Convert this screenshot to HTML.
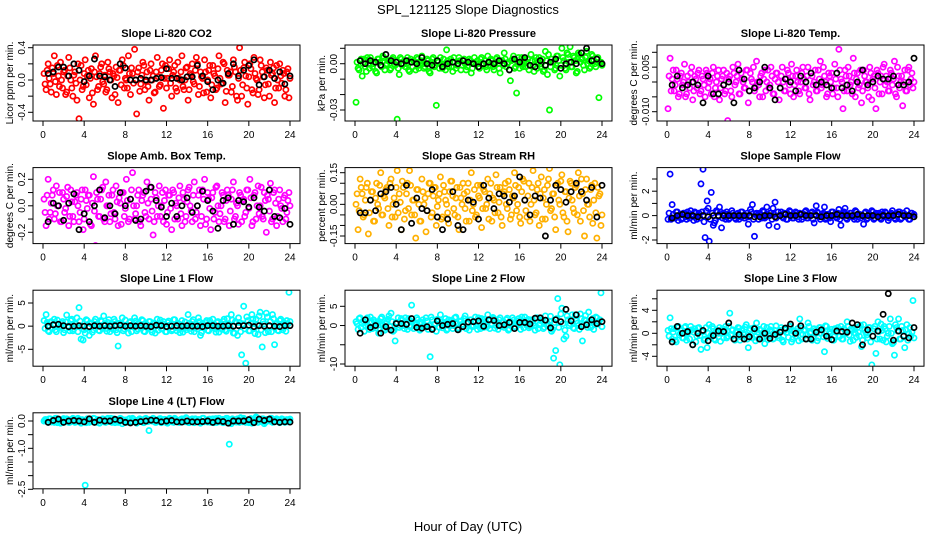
<!DOCTYPE html>
<html><head><meta charset="utf-8"><title>SPL_121125 Slope Diagnostics</title>
<style>
html,body{margin:0;padding:0;background:#fff;}
svg{display:block;font-family:"Liberation Sans",sans-serif;}
</style></head>
<body>
<svg id="chart" width="936" height="540" viewBox="0 0 936 540" xmlns="http://www.w3.org/2000/svg">
<rect x="0" y="0" width="936" height="540" fill="#fff"/>
<text x="468" y="14" text-anchor="middle" font-size="13">SPL_121125  Slope Diagnostics</text>
<text x="468" y="531" text-anchor="middle" font-size="13">Hour of Day (UTC)</text>
<g id="panels"></g>
</svg>
<script>
// shared hour values (categories on x)
const hoursColor = [0.1,0.3,0.5,0.7,0.9,1.1,1.3,1.5,1.7,1.9,2.1,2.3,2.5,2.7,2.9,3.1,3.3,3.5,3.7,3.9,4.1,4.3,4.5,4.7,4.9,5.1,5.3,5.5,5.7,5.9,6.1,6.3,6.5,6.7,6.9,7.1,7.3,7.5,7.7,7.9,8.1,8.3,8.5,8.7,8.9,9.1,9.3,9.5,9.7,9.9,10.1,10.3,10.5,10.7,10.9,11.1,11.3,11.5,11.7,11.9,12.1,12.3,12.5,12.7,12.9,13.1,13.3,13.5,13.7,13.9,14.1,14.3,14.5,14.7,14.9,15.1,15.3,15.5,15.7,15.9,16.1,16.3,16.5,16.7,16.9,17.1,17.3,17.5,17.7,17.9,18.1,18.3,18.5,18.7,18.9,19.1,19.3,19.5,19.7,19.9,20.1,20.3,20.5,20.7,20.9,21.1,21.3,21.5,21.7,21.9,22.1,22.3,22.5,22.7,22.9,23.1,23.3,23.5,23.7,23.9];
const hoursColorB = [0.2,0.4,0.6,0.8,1.0,1.2,1.4,1.6,1.8,2.0,2.2,2.4,2.6,2.8,3.0,3.2,3.4,3.6,3.8,4.0,4.2,4.4,4.6,4.8,5.0,5.2,5.4,5.6,5.8,6.0,6.2,6.4,6.6,6.8,7.0,7.2,7.4,7.6,7.8,8.0,8.2,8.4,8.6,8.8,9.0,9.2,9.4,9.6,9.8,10.0,10.2,10.4,10.6,10.8,11.0,11.2,11.4,11.6,11.8,12.0,12.2,12.4,12.6,12.8,13.0,13.2,13.4,13.6,13.8,14.0,14.2,14.4,14.6,14.8,15.0,15.2,15.4,15.6,15.8,16.0,16.2,16.4,16.6,16.8,17.0,17.2,17.4,17.6,17.8,18.0,18.2,18.4,18.6,18.8,19.0,19.2,19.4,19.6,19.8,20.0,20.2,20.4,20.6,20.8,21.0,21.2,21.4,21.6,21.8,22.0,22.2,22.4,22.6,22.8,23.0,23.2,23.4,23.6,23.8,24.0];
const hoursBlack = [0.5,1,1.5,2,2.5,3,3.5,4,4.5,5,5.5,6,6.5,7,7.5,8,8.5,9,9.5,10,10.5,11,11.5,12,12.5,13,13.5,14,14.5,15,15.5,16,16.5,17,17.5,18,18.5,19,19.5,20,20.5,21,21.5,22,22.5,23,23.5,24];
const xTicks = [0,4,8,12,16,20,24];

const titles = ["Slope Li-820 CO2","Slope Li-820 Pressure","Slope Li-820 Temp.","Slope Amb. Box Temp.","Slope Gas Stream RH","Slope Sample Flow","Slope Line 1 Flow","Slope Line 2 Flow","Slope Line 3 Flow","Slope Line 4 (LT) Flow"];
const yTitles = ["Licor ppm per min.","kPa per min.","degrees C per min.","degrees C per min.","percent per min.","ml/min per min.","ml/min per min.","ml/min per min.","ml/min per min.","ml/min per min."];
const seriesColors = ["#ff0000","#00ff00","#ff00ff","#ff00ff","#ffb000","#0000ff","#00ffff","#00ffff","#00ffff","#00ffff"];

const yTicks0 = [0.4,0.2,0,-0.2,-0.4];       const yLabels0 = ["0.4","","0.0","","-0.4"];
const yTicks1 = [0.01,0,-0.01,-0.02,-0.03];  const yLabels1 = ["","0.00","","","-0.03"];
const yTicks2 = [0.01,0.005,0,-0.005,-0.01]; const yLabels2 = ["","0.005","","","-0.010"];
const yTicks3 = [0.2,0.1,0,-0.1,-0.2];       const yLabels3 = ["0.2","","0.0","","-0.2"];
const yTicks4 = [0.15,0.1,0.05,0,-0.05,-0.1,-0.15]; const yLabels4 = ["0.15","","","0.00","","","-0.15"];
const yTicks5 = [3,2,1,0,-1,-2];             const yLabels5 = ["","2","","0","","-2"];
const yTicks6 = [5,0,-5];                    const yLabels6 = ["5","0","-5"];
const yTicks7 = [5,0,-5,-10];                const yLabels7 = ["5","0","","-10"];
const yTicks8 = [6,4,2,0,-2,-4];             const yLabels8 = ["","4","","0","","-4"];
const yTicks9 = [0,-0.5,-1,-1.5,-2,-2.5];    const yLabels9 = ["0.0","","-1.0","","","-2.5"];

const color0 = [0.08,-0.12,0.2,-0.05,0.15,0.3,-0.18,0.05,0.22,-0.1,0.12,-0.15,0.28,0.0,-0.2,0.1,-0.25,-0.48,0.18,-0.08,0.25,0.05,-0.22,0.14,-0.3,0.3,-0.12,0.08,0.2,-0.05,-0.15,0.22,0.1,-0.22,0.05,0.16,-0.28,0.12,0.25,-0.1,0.0,0.3,-0.18,0.08,0.38,-0.42,0.15,-0.05,0.22,-0.12,0.1,-0.25,0.2,0.05,-0.15,0.28,-0.08,0.12,-0.35,0.18,0.02,0.25,-0.2,0.1,-0.1,0.22,0.0,0.3,-0.12,0.15,-0.25,0.08,0.2,-0.05,0.28,-0.18,0.1,0.02,0.25,-0.15,0.12,-0.22,0.18,0.05,-0.1,0.3,-0.05,0.22,-0.28,0.12,0.06,-0.15,0.25,0.1,-0.25,0.4,-0.2,0.15,0.05,-0.3,0.2,-0.12,0.28,0.02,-0.18,0.25,0.1,-0.22,0.15,-0.05,0.22,0.08,-0.28,0.18,-0.1,0.05,0.12,-0.2,0.1,-0.22];
const color1 = [-0.025,-0.003,0.002,-0.008,0.003,-0.005,0.0,0.004,-0.002,0.001,-0.006,0.003,-0.001,0.005,-0.004,0.0,0.002,-0.003,0.004,-0.001,-0.036,-0.007,0.003,0.0,-0.002,0.004,-0.005,0.001,0.002,-0.004,0.003,-0.001,0.005,-0.003,0.0,0.002,-0.006,0.003,-0.002,-0.027,0.001,0.004,-0.003,0.0,0.009,-0.002,0.003,-0.005,0.001,-0.001,0.004,-0.004,0.002,0.0,-0.002,0.003,-0.006,0.001,-0.04,0.002,-0.003,0.004,0.0,-0.002,0.005,-0.001,0.002,-0.004,0.003,0.0,-0.006,0.002,0.007,-0.002,0.001,-0.011,0.003,-0.003,-0.019,0.004,0.0,-0.002,0.003,0.001,-0.004,0.006,-0.001,0.002,-0.003,0.004,0.0,-0.005,0.008,-0.007,-0.03,0.003,0.001,-0.003,0.005,-0.008,0.01,0.002,-0.004,0.006,0.011,-0.002,0.004,-0.006,0.007,0.001,0.003,-0.004,0.008,0.002,-0.002,0.005,0.0,0.003,-0.022,0.001];
const color2 = [-0.009,0.008,0.001,-0.003,0.004,-0.005,0.002,-0.001,0.006,-0.004,0.0,0.003,-0.006,0.002,-0.002,0.004,-0.003,0.001,-0.005,0.003,0.0,-0.004,0.005,-0.002,0.002,-0.006,0.001,0.004,-0.003,-0.013,0.002,-0.005,0.003,0.0,0.006,-0.004,0.001,-0.002,0.004,-0.007,0.003,0.0,-0.003,0.007,-0.001,0.002,-0.005,0.004,0.0,-0.002,0.005,-0.004,0.001,0.003,-0.006,0.002,0.0,-0.003,0.004,-0.001,0.006,-0.005,0.002,0.0,-0.004,0.003,0.001,-0.002,0.005,-0.006,0.002,0.0,-0.003,0.004,0.007,-0.001,0.002,-0.005,0.003,0.0,-0.004,0.006,-0.002,0.011,0.001,-0.009,0.004,-0.003,0.002,0.0,0.008,-0.005,0.003,-0.001,-0.007,0.004,0.0,-0.002,0.005,-0.006,0.002,-0.009,0.003,0.0,-0.004,0.006,0.002,-0.003,0.004,-0.001,0.007,-0.005,0.002,0.0,-0.008,0.004,-0.003,0.005,0.001,-0.002];
const color3 = [0.05,-0.15,0.2,-0.05,0.08,-0.1,0.15,0.0,-0.12,0.1,-0.05,0.07,-0.15,0.12,-0.08,0.03,0.1,-0.12,0.05,-0.18,0.12,-0.02,0.08,-0.15,0.22,-0.3,0.05,-0.08,0.12,-0.1,0.18,0.0,-0.12,0.08,-0.05,0.15,-0.15,0.02,0.1,-0.08,0.2,-0.12,0.05,0.25,-0.1,0.0,0.12,-0.15,0.08,-0.05,0.18,-0.1,0.05,-0.22,0.1,-0.08,0.15,0.0,-0.12,0.12,-0.05,0.08,-0.18,0.1,0.02,-0.1,0.15,-0.15,0.05,-0.08,0.12,0.0,-0.12,0.18,-0.05,0.08,-0.15,0.12,0.2,-0.1,0.05,-0.18,0.1,-0.05,0.15,-0.12,0.0,0.08,-0.1,0.12,-0.15,0.05,0.18,-0.08,0.0,0.1,-0.12,0.05,-0.05,0.12,0.2,-0.15,0.08,-0.1,0.15,0.0,-0.08,0.1,-0.2,0.05,0.17,-0.1,0.12,-0.15,0.05,0.0,-0.12,0.08,-0.05,0.1];
const color4 = [0.0,-0.12,0.12,0.05,-0.05,0.08,-0.14,0.02,0.06,-0.08,0.1,-0.02,0.15,-0.05,0.03,0.08,-0.1,0.12,0.0,-0.06,0.16,0.05,-0.12,0.08,-0.03,0.1,0.16,-0.05,0.02,-0.16,0.07,-0.08,0.12,0.0,-0.13,0.05,0.1,-0.04,0.08,-0.1,0.02,0.13,-0.06,0.06,0.0,-0.09,0.11,0.04,-0.05,0.08,-0.12,0.03,0.1,-0.02,0.06,-0.08,0.15,0.0,-0.06,0.09,0.03,-0.11,0.07,-0.02,0.12,0.05,-0.08,0.02,0.14,-0.04,0.08,-0.1,0.06,0.0,0.11,-0.07,0.04,0.15,-0.03,0.08,-0.09,0.12,0.02,-0.06,0.1,0.0,0.16,-0.05,0.07,-0.1,0.13,0.03,-0.07,0.09,0.17,-0.02,0.05,-0.12,0.1,0.0,0.14,-0.06,0.06,-0.13,0.11,0.02,-0.04,0.09,0.15,-0.08,0.05,-0.15,0.12,0.0,0.07,-0.09,0.1,-0.16,0.04,-0.1];
const color5 = [-0.3,3.4,0.9,-0.2,0.3,-0.4,0.1,-0.2,0.2,-0.3,0.0,0.4,-0.1,0.3,-0.3,0.2,2.6,3.8,-1.8,1.2,-2.1,1.9,-0.8,-0.4,0.3,0.7,-1.0,0.2,-0.3,0.1,-0.2,0.4,0.0,-0.3,0.2,-0.1,0.3,-0.2,0.0,-0.7,0.5,0.9,-1.7,0.2,-0.3,0.1,0.4,-0.2,0.7,-0.8,0.2,0.6,1.1,-0.9,0.0,0.3,-0.2,0.1,-0.3,0.4,0.0,-0.2,0.3,-0.1,0.2,-0.3,0.1,0.4,-0.2,0.0,0.3,-0.6,0.8,0.2,-0.3,0.1,0.7,-0.2,0.0,-0.5,0.3,0.1,-0.2,0.5,-0.8,0.2,0.6,-0.3,0.0,0.2,-0.1,0.4,-0.3,0.1,0.0,-0.7,0.3,-0.2,0.1,0.4,-0.3,0.2,0.0,-0.2,0.3,-0.1,0.2,-0.4,0.1,0.4,-0.2,0.0,0.3,-0.3,0.2,0.0,0.4,-0.3,0.2,-0.1];
const color6 = [1.2,2.5,-1.0,0.8,-0.5,1.5,-1.2,0.5,0.0,1.0,-0.8,2.4,-0.3,1.2,-1.0,0.6,1.8,4.0,-2.8,-3.0,-1.5,1.2,-2.0,0.5,-0.8,1.5,0.2,-1.0,1.0,2.2,-0.5,0.8,-1.2,0.3,1.5,-0.8,-4.3,0.5,1.8,-0.6,0.2,-1.5,1.0,0.0,1.8,-1.0,0.6,-0.4,1.2,-1.2,0.3,1.0,-0.8,0.5,-1.5,1.5,0.0,-0.6,1.0,-1.2,0.8,0.2,-1.0,1.4,-0.3,0.6,-1.4,1.2,0.0,-0.8,2.5,-0.5,1.0,-1.2,0.4,1.8,-2.0,0.6,-0.3,1.2,-1.0,0.2,1.5,-0.6,0.8,-1.3,0.3,1.0,-0.8,1.6,0.0,2.5,-1.5,1.0,-2.0,0.8,-6.2,4.3,-8.0,1.2,-1.0,2.5,-0.5,1.5,-1.8,3.0,-4.5,0.5,2.8,-1.2,1.0,2.5,-4.0,0.6,-1.0,1.5,-0.8,0.5,1.2,7.3];
const color7 = [1.0,-1.0,2.0,0.5,-1.5,1.5,0.0,2.2,-0.8,1.0,0.5,-2.0,1.8,0.2,-1.2,1.0,2.5,3.2,-1.5,-4.0,0.8,-0.5,1.8,0.0,2.0,-1.0,1.2,5.3,-0.8,0.5,1.5,-1.2,0.8,0.0,2.0,-1.0,-8.1,1.5,0.2,-1.5,1.0,2.8,-0.6,0.8,-1.2,1.5,0.0,-0.8,2.0,0.5,-1.0,1.2,-0.3,2.5,0.8,-1.2,1.5,0.0,2.2,-1.0,0.6,1.8,-0.5,1.0,2.8,-0.8,0.5,1.8,0.0,-1.0,2.0,0.8,-0.5,1.5,-1.2,1.0,2.0,-0.3,0.6,1.8,-1.0,0.8,2.2,0.0,-0.6,1.5,0.5,-1.2,2.0,0.2,1.2,-0.8,2.5,0.0,1.0,-1.5,-8.5,-6.5,7.0,-10.2,4.5,-3.5,-2.8,1.5,0.5,2.8,-0.8,1.2,0.0,3.0,-4.0,1.5,0.5,3.5,-0.5,1.8,0.2,2.0,1.0,8.5];
const color8 = [0.5,2.7,-1.0,0.8,-1.5,1.2,0.0,-0.8,1.0,-1.2,0.5,1.2,-2.0,0.8,-0.5,1.0,-2.8,0.3,-1.0,-2.5,1.5,-0.3,0.8,-1.2,0.5,1.0,0.0,-0.8,1.2,-0.5,3.5,0.5,-1.0,0.2,1.0,-1.2,0.6,-0.3,1.5,-2.5,0.8,-0.8,0.3,1.8,-1.0,0.5,0.0,-1.8,1.0,-0.5,1.2,-1.0,0.5,0.0,-0.8,1.0,-1.5,0.6,0.2,1.2,-1.5,0.3,-0.5,0.8,2.5,-1.0,0.5,-0.3,1.8,0.0,-1.2,0.8,0.2,-0.8,1.0,0.5,-3.2,1.2,-0.5,0.0,-1.2,0.8,0.3,-0.6,1.2,-1.0,0.5,2.0,-0.3,0.8,-1.2,0.0,1.0,-0.5,-2.3,1.5,0.2,-0.8,1.0,-5.5,0.8,-3.5,2.0,-1.0,0.5,1.2,-1.5,0.0,2.5,-1.8,-3.8,1.0,2.5,-1.0,0.5,-2.5,1.5,0.0,-0.5,5.7];
const color9 = [0.0,0.05,-0.05,0.08,0.0,-0.05,0.1,0.02,-0.08,0.05,0.0,0.08,-0.05,0.03,0.1,-0.05,0.0,0.05,-0.08,0.02,-2.35,0.08,-0.05,0.0,0.1,-0.03,0.05,-0.08,0.0,0.06,-0.05,0.1,0.0,-0.05,0.08,0.02,-0.05,0.1,-0.1,0.03,0.0,0.06,-0.05,0.1,0.0,-0.08,0.05,0.02,-0.05,0.08,0.0,-0.35,0.05,0.1,-0.05,0.02,0.08,-0.06,0.0,0.05,-0.08,0.1,0.0,-0.05,0.06,0.02,-0.05,0.08,0.0,0.12,-0.05,0.03,0.08,-0.06,0.0,0.05,-0.08,0.1,-0.03,0.0,0.06,-0.05,0.08,0.02,-0.05,0.1,0.0,-0.06,0.05,0.1,-0.85,-0.1,0.05,0.0,0.08,-0.05,0.02,0.1,-0.05,0.0,0.06,-0.08,0.05,0.15,-0.05,0.02,0.08,-0.1,0.0,0.05,0.1,-0.05,0.02,0.08,-0.03,0.0,0.06,-0.05,0.05,0.02];

// second colored samples (denser cloud)
const colorB0 = [-0.05,0.12,0.02,-0.15,0.08,-0.02,0.18,-0.08,0.0,0.1,-0.18,0.05,0.15,-0.1,0.06,-0.04,0.2,0.0,-0.12,0.08,-0.06,0.12,0.02,-0.16,0.1,0.04,-0.08,0.16,-0.02,0.06,-0.12,0.14,0.0,0.08,-0.18,0.03,0.12,-0.06,0.18,0.02,-0.1,0.08,0.15,-0.04,0.0,0.1,-0.14,0.06,0.18,-0.02,-0.08,0.12,0.0,-0.16,0.1,0.04,-0.06,0.2,0.02,-0.1,0.14,-0.04,0.06,0.18,-0.14,0.02,0.1,-0.08,0.0,0.16,-0.12,0.06,-0.02,0.12,0.2,-0.08,0.04,-0.16,0.1,0.0,0.18,-0.06,0.08,-0.12,0.14,0.02,-0.04,0.2,-0.14,0.06,0.1,-0.08,0.16,-0.2,0.02,0.12,-0.06,0.22,-0.1,0.04,0.14,-0.16,0.08,0.0,-0.12,0.18,0.04,-0.06,0.12,-0.2,0.06,0.15,-0.1,0.0,0.2,-0.04,0.08,-0.12,0.14,0.02];
const colorB1 = [0.001,-0.004,0.003,0.0,-0.002,0.004,-0.003,0.002,0.0,-0.005,0.003,0.001,-0.002,0.004,-0.001,0.002,-0.004,0.003,0.0,0.002,-0.003,0.004,-0.001,0.002,0.0,-0.004,0.003,-0.002,0.001,0.004,-0.003,0.002,0.0,-0.002,0.003,-0.005,0.001,0.004,-0.001,0.002,-0.003,0.0,0.003,-0.004,0.002,0.001,-0.002,0.004,-0.003,0.0,0.002,-0.001,0.003,-0.004,0.001,0.002,-0.003,0.004,0.0,-0.002,0.003,-0.001,0.002,-0.004,0.001,0.003,-0.002,0.0,0.004,-0.003,0.002,-0.001,0.003,0.0,-0.004,0.002,0.005,-0.002,0.001,-0.003,0.004,0.0,-0.002,0.003,-0.001,0.002,-0.005,0.004,0.001,-0.002,0.003,-0.004,0.002,0.006,-0.002,0.001,-0.004,0.005,0.002,-0.001,0.004,-0.003,0.007,0.001,-0.002,0.005,0.002,-0.005,0.006,0.003,-0.001,0.004,0.0,-0.003,0.006,0.002,-0.002,0.004,0.001,-0.001];
const colorB2 = [0.002,-0.003,0.004,-0.001,0.001,-0.004,0.003,0.0,-0.005,0.002,-0.002,0.005,-0.003,0.001,0.003,-0.004,0.002,-0.001,0.004,-0.002,0.001,0.003,-0.005,0.0,0.004,-0.002,0.002,-0.004,0.003,0.001,-0.003,0.005,-0.001,0.002,-0.004,0.003,0.0,-0.002,0.004,-0.003,0.001,0.005,-0.002,0.0,-0.005,0.003,0.001,-0.003,0.004,-0.001,0.002,-0.004,0.003,0.0,-0.002,0.005,-0.003,0.001,0.003,-0.004,0.002,-0.001,0.004,-0.003,0.0,0.005,-0.002,0.002,-0.004,0.003,-0.001,0.004,-0.003,0.001,-0.002,0.005,0.0,-0.004,0.002,0.003,-0.002,0.001,-0.005,0.004,0.0,-0.003,0.002,0.005,-0.001,-0.004,0.003,0.001,-0.002,0.004,-0.003,0.002,0.0,-0.005,0.003,0.001,-0.002,0.004,-0.004,0.002,0.005,-0.001,0.0,-0.003,0.003,0.001,-0.004,0.005,-0.002,0.002,0.0,-0.003,0.004,-0.001,0.003,0.0];
const colorB3 = [-0.05,0.08,-0.1,0.02,0.12,-0.06,0.0,0.1,-0.12,0.05,-0.02,0.14,-0.08,0.03,-0.12,0.08,0.0,-0.05,0.12,-0.1,0.04,0.08,-0.14,0.02,-0.04,0.1,-0.08,0.05,0.14,-0.12,0.0,0.08,-0.06,0.12,-0.1,0.03,0.06,-0.14,0.1,-0.02,0.04,-0.1,0.12,0.0,-0.06,0.08,-0.12,0.04,0.1,-0.08,0.02,0.14,-0.04,-0.12,0.06,0.0,-0.08,0.1,0.04,-0.14,0.08,-0.02,0.12,-0.1,0.0,0.06,-0.06,0.1,-0.12,0.03,0.14,-0.04,0.08,-0.1,0.0,0.12,-0.08,0.05,-0.14,0.1,-0.02,0.06,-0.1,0.14,0.0,-0.06,0.1,-0.12,0.04,0.08,-0.04,0.12,-0.1,0.02,-0.14,0.08,0.04,-0.08,0.12,-0.02,0.06,-0.12,0.1,0.0,-0.06,0.14,-0.1,0.04,0.08,-0.04,-0.12,0.1,0.02,-0.08,0.12,-0.02,0.06,-0.1,0.04,0.0];
const colorB4 = [0.05,-0.03,0.08,-0.06,0.02,0.1,-0.04,0.06,-0.08,0.03,0.0,0.09,-0.05,0.04,0.07,-0.02,0.1,-0.06,0.03,0.08,-0.04,0.01,0.11,-0.07,0.05,-0.02,0.09,0.02,-0.05,0.07,0.0,-0.08,0.06,0.03,-0.03,0.1,-0.06,0.04,0.08,-0.01,0.05,-0.07,0.09,0.02,-0.04,0.06,0.11,-0.02,0.03,-0.06,0.08,0.0,0.05,-0.08,0.1,0.02,-0.03,0.07,-0.05,0.04,0.09,-0.02,0.06,0.0,-0.07,0.1,0.03,-0.04,0.08,0.01,-0.06,0.05,0.1,-0.02,0.07,-0.05,0.03,0.09,0.0,-0.06,0.06,0.11,-0.03,0.04,-0.08,0.08,0.02,-0.04,0.1,0.05,-0.07,0.07,0.0,0.12,-0.03,0.05,-0.06,0.09,0.02,0.11,-0.04,0.06,-0.08,0.03,0.1,-0.02,0.08,-0.05,0.04,0.12,-0.03,0.07,0.0,-0.06,0.09,0.02,-0.04,0.08,0.05,-0.05];
const colorB5 = [0.2,-0.3,0.1,-0.2,0.3,0.0,-0.3,0.2,-0.1,0.3,-0.2,0.1,-0.4,0.2,0.0,-0.2,0.3,-0.5,0.4,0.6,-0.3,0.2,-0.6,0.4,-0.1,0.3,-0.2,0.1,0.3,-0.3,0.0,0.2,-0.2,0.1,-0.3,0.3,0.0,-0.2,0.2,-0.1,0.3,-0.3,0.1,0.0,0.2,-0.2,0.3,-0.1,0.0,0.2,-0.3,0.1,-0.2,0.3,0.0,-0.1,0.2,-0.3,0.1,0.3,-0.2,0.0,0.2,-0.3,0.1,-0.1,0.3,-0.2,0.0,0.2,-0.3,0.1,0.3,-0.1,0.0,0.2,-0.3,0.1,-0.2,0.3,0.0,-0.1,0.2,-0.3,0.1,0.3,-0.2,0.0,0.2,-0.1,-0.3,0.3,0.1,-0.2,0.0,0.2,-0.3,0.1,-0.1,0.3,-0.2,0.0,0.2,-0.3,0.1,0.3,-0.1,-0.2,0.2,0.0,-0.3,0.1,0.3,-0.2,0.2,-0.1,0.0,-0.3,0.2,0.1];
const colorB6 = [-0.5,0.8,-1.2,1.0,0.2,-0.8,1.3,-0.3,0.6,-1.4,0.9,0.0,-1.0,1.5,-0.6,0.4,-1.2,1.1,0.0,-0.8,1.4,-0.4,0.7,-1.3,1.0,0.2,-0.9,1.2,-0.5,0.5,-1.1,1.4,0.0,-0.7,1.0,-1.4,0.6,0.2,-1.0,1.3,-0.3,0.8,-1.2,0.4,1.1,-0.6,0.0,1.4,-1.1,0.5,-0.4,1.0,-1.3,0.7,0.1,-0.9,1.3,-0.5,0.4,-1.2,1.1,0.0,-0.7,1.4,-1.0,0.5,0.2,-1.3,0.9,-0.3,0.6,-1.1,1.4,0.0,-0.6,1.0,-1.4,0.4,0.8,-0.9,1.2,-0.2,0.5,-1.3,1.0,0.1,-0.7,1.5,-1.1,0.4,-0.4,1.3,-1.5,0.8,1.8,-1.2,0.5,-0.6,2.0,-1.0,0.7,1.5,-1.6,0.3,2.2,-0.8,1.0,-1.4,2.0,0.0,-1.2,1.6,0.4,-0.9,1.2,-0.3,0.8,-1.1,0.5,1.0];
const colorB7 = [0.5,1.8,-0.5,1.2,0.0,2.0,-1.0,0.8,1.5,-0.6,1.0,0.2,2.2,-0.8,0.6,1.6,-0.3,1.0,-1.2,0.8,2.0,0.0,1.4,-0.8,0.6,1.8,-0.4,1.0,0.2,2.0,-0.9,0.8,1.5,-0.2,1.2,0.0,2.2,-0.7,0.5,1.6,-0.5,1.0,0.2,1.8,-0.9,0.7,1.4,0.0,2.2,-0.6,1.0,0.3,1.8,-0.8,0.6,1.5,-0.3,1.1,0.0,2.0,-0.8,0.8,1.6,-0.4,1.2,0.2,2.1,-0.7,0.6,1.5,-0.2,1.0,0.0,1.9,-0.9,0.8,1.4,-0.4,1.2,0.3,2.2,-0.6,0.7,1.6,-0.2,1.0,0.0,2.0,-0.8,0.5,1.5,-0.4,1.2,0.3,2.4,-1.0,0.8,1.8,-0.5,3.0,0.5,-1.2,2.5,0.0,1.4,-0.6,2.8,0.6,-1.0,1.8,0.2,2.6,-0.5,1.2,0.8,-1.0,2.2,0.4,1.5,-0.3];
const colorB8 = [-0.5,0.8,0.2,-1.2,1.0,-0.3,0.5,-0.8,1.2,0.0,-1.0,0.6,0.2,-1.5,0.9,-0.4,0.3,-1.2,1.0,0.0,-0.6,1.2,-1.0,0.4,0.0,-1.4,0.8,0.3,-0.8,1.2,-0.2,0.6,-1.2,0.4,0.9,-0.6,0.0,1.1,-1.0,0.5,-0.3,0.9,-1.3,0.2,0.7,-0.8,1.2,0.0,-1.1,0.6,0.3,-0.9,1.3,-0.4,0.5,-1.2,0.8,0.1,-0.7,1.2,-1.0,0.4,0.0,-1.3,0.9,-0.2,0.6,-1.0,1.2,0.2,-0.8,0.5,-1.3,1.0,0.0,-0.6,1.3,-0.9,0.3,0.7,-1.2,0.2,1.0,-0.5,-1.0,0.8,0.0,1.2,-1.4,0.5,0.9,-0.7,0.2,1.4,-1.2,0.6,-0.3,1.0,-1.5,0.4,1.2,-1.0,0.3,1.6,-1.2,0.8,-0.5,1.2,0.0,-1.6,1.5,0.4,-1.0,1.2,-0.4,0.6,-1.2,1.0,0.2,-0.8];
const colorB9 = [0.05,-0.02,0.08,-0.04,0.02,0.1,-0.06,0.04,0.0,0.09,-0.03,0.06,-0.05,0.02,0.08,-0.04,0.1,-0.02,0.05,0.0,-0.06,0.07,0.02,-0.03,0.09,-0.05,0.04,0.0,0.08,-0.04,0.06,-0.02,0.1,0.02,-0.06,0.05,-0.03,0.08,0.0,0.04,-0.05,0.09,-0.02,0.06,0.0,-0.04,0.08,0.03,-0.06,0.1,-0.02,0.05,0.0,0.07,-0.05,0.03,0.09,-0.03,0.06,-0.06,0.02,0.08,-0.04,0.1,0.0,-0.05,0.06,0.03,-0.03,0.09,-0.06,0.04,0.0,0.08,-0.02,0.05,-0.05,0.1,0.02,-0.04,0.07,0.0,-0.06,0.09,0.03,-0.03,0.06,-0.02,0.1,0.0,-0.05,0.08,0.02,-0.04,0.06,0.12,-0.03,0.05,0.0,-0.06,0.09,0.02,-0.04,0.11,0.04,-0.02,0.08,-0.05,0.06,0.0,0.1,-0.03,0.05,0.02,-0.06,0.08,0.0,0.04,-0.03,0.07];

const black0 = [0.08,0.1,0.16,0.16,0.05,0.2,0.12,-0.02,0.05,0.26,0.05,0.04,0.0,-0.08,0.2,0.15,0.0,0.0,0.02,0.0,0.0,0.02,0.03,0.14,0.02,0.02,0.0,0.04,0.04,0.18,0.05,-0.02,-0.12,0.0,-0.04,0.08,0.2,0.05,0.12,0.18,0.25,-0.06,0.04,0.12,0.02,0.1,-0.05,0.05];
const black1 = [0.002,0.0,0.002,0.001,-0.001,0.006,0.002,0.001,0.0,0.002,0.001,0.0,0.004,0.0,-0.001,0.002,-0.002,0.0,0.001,0.0,0.002,0.001,0.0,-0.002,0.0,0.001,0.0,0.002,0.0,-0.004,0.003,0.001,0.004,-0.001,-0.002,0.002,-0.001,0.001,0.003,-0.003,0.0,0.001,0.0,0.007,0.01,0.002,0.003,0.0];
const black2 = [-0.001,0.002,-0.002,-0.001,0.0,-0.001,-0.007,0.002,-0.004,-0.004,-0.001,0.0,-0.007,0.004,0.001,-0.003,-0.002,0.0,0.005,-0.002,-0.006,-0.002,0.001,0.0,-0.003,0.002,0.0,0.003,-0.001,0.0,-0.001,-0.002,0.003,-0.002,-0.001,-0.003,0.0,0.004,-0.001,0.0,0.002,0.001,0.001,0.002,-0.001,-0.001,0.0,0.008];
const black3 = [-0.12,0.02,0.0,-0.11,0.02,0.09,-0.18,-0.06,-0.12,0.0,0.12,-0.09,0.0,-0.06,0.1,0.0,0.05,-0.11,-0.1,0.11,0.14,0.04,-0.01,-0.08,0.02,-0.08,0.0,0.06,-0.05,0.0,0.11,0.04,-0.04,-0.17,0.04,0.06,-0.14,0.04,0.03,-0.01,0.06,-0.01,-0.04,0.12,-0.08,-0.09,-0.02,-0.14];
const black4 = [-0.04,-0.04,0.02,-0.03,0.05,0.06,0.08,0.0,-0.12,0.09,-0.09,0.03,-0.02,-0.03,0.07,-0.06,-0.12,-0.07,0.06,-0.1,-0.12,0.02,0.01,-0.07,0.09,0.03,-0.02,0.05,0.04,0.01,0.04,0.13,0.02,-0.05,0.04,0.03,-0.15,0.02,0.09,0.07,0.01,0.06,0.1,0.06,0.02,0.08,-0.06,0.09];
const black5 = [-0.2,0.0,0.1,0.0,0.0,-0.1,0.0,-0.1,0.0,0.0,0.0,0.0,0.0,0.0,0.0,0.0,-0.1,-0.1,0.0,0.0,-0.1,0.0,0.1,0.0,0.0,0.1,0.0,0.0,0.0,-0.1,0.0,0.0,0.1,0.0,0.0,0.0,0.1,0.0,0.0,0.0,-0.1,0.0,0.0,0.0,0.1,0.0,0.0,-0.1];
const black6 = [0.0,0.3,0.4,0.1,-0.1,0.0,0.1,0.0,-0.1,0.1,0.0,0.1,0.0,0.1,0.2,0.0,0.1,0.0,0.1,0.0,-0.1,0.2,0.1,-0.1,0.0,0.1,0.0,0.1,0.0,0.0,-0.1,0.1,0.1,0.0,0.0,0.1,0.0,0.1,0.1,0.2,-0.1,0.1,0.0,0.1,0.0,-0.1,0.1,0.1];
const black7 = [-2.0,1.5,-0.5,0.0,-2.0,-0.3,-1.2,0.5,0.5,0.3,1.8,-0.5,-0.7,-0.3,-1.0,1.2,0.0,0.3,0.5,-1.1,-0.3,0.9,1.0,1.2,-0.2,1.5,1.3,0.0,0.2,0.8,-0.8,0.8,0.8,0.4,1.9,2.0,1.4,-0.6,1.5,1.0,4.2,1.2,2.8,-0.3,0.2,1.5,0.5,1.0];
const black8 = [-1.5,1.2,0.0,0.3,-2.0,0.0,0.5,-1.3,-0.4,0.4,0.3,1.8,-1.0,-0.2,-1.0,-0.6,0.8,-1.0,0.0,-0.9,-0.2,0.2,0.9,1.6,0.0,1.3,-1.0,-1.0,0.2,0.6,-0.5,-1.1,0.4,0.3,0.2,1.8,1.5,-2.0,0.6,-0.5,0.4,3.3,6.9,-1.2,0.4,-0.5,-0.8,1.0];
const black9 = [-0.05,0.02,0.07,-0.05,0.0,0.02,0.0,-0.03,0.08,-0.05,0.03,0.0,0.0,0.06,0.02,-0.05,-0.07,-0.05,-0.02,0.0,0.03,0.02,-0.03,0.0,0.02,-0.03,-0.04,0.0,-0.03,-0.03,-0.02,0.0,-0.05,0.0,-0.02,-0.08,0.0,0.0,0.0,0.05,-0.06,0.07,0.02,0.07,-0.03,-0.05,-0.03,-0.04];

const colorSeries = [color0,color1,color2,color3,color4,color5,color6,color7,color8,color9];
const colorSeriesB = [colorB0,colorB1,colorB2,colorB3,colorB4,colorB5,colorB6,colorB7,colorB8,colorB9];
const blackSeries = [black0,black1,black2,black3,black4,black5,black6,black7,black8,black9];
const yTickSets = [yTicks0,yTicks1,yTicks2,yTicks3,yTicks4,yTicks5,yTicks6,yTicks7,yTicks8,yTicks9];
const yLabelSets = [yLabels0,yLabels1,yLabels2,yLabels3,yLabels4,yLabels5,yLabels6,yLabels7,yLabels8,yLabels9];

const calib = [
  [0.4,2.7,-0.4,67.3],[0.01,3.3,-0.03,65],[0.01,7.3,-0.01,66.7],
  [0.2,11.7,-0.2,64.7],[0.15,5.1,-0.15,68.4],[3,11.4,-2,72.4],
  [5,12.8,-5,59.1],[5,16.1,-10,73.8],[4,20.1,-4,66.1],[0,8.2,-2.5,76.5]
];

const NS = "http://www.w3.org/2000/svg";
const root = document.getElementById('panels');
function mk(tag, attrs, parent){
  const e = document.createElementNS(NS, tag);
  for (const k in attrs) e.setAttribute(k, attrs[k]);
  parent.appendChild(e);
  return e;
}
const BOX_W = 267, BOX_H = 76;
for (let p = 0; p < 10; p++) {
  const col = p % 3, row = Math.floor(p / 3);
  const left = 33 + 312 * col;
  const top = 45 + 122.6 * row;
  const g = mk('g', {}, root);
  
  
  const xS = h => left + 10 + h * (247 / 24);
  const c = calib[p];
  const yS = v => top + c[1] + (v - c[0]) * (c[3] - c[1]) / (c[2] - c[0]);

  const t = mk('text', {x: left + BOX_W / 2, y: top - 8, 'text-anchor': 'middle', 'font-size': 11, 'font-weight': 'bold'}, g);
  
  
  t.textContent = titles[p];

  const yt = mk('text', {x: 0, y: 0, 'text-anchor': 'middle', 'font-size': 10, transform: 'translate(' + (left - 20) + ',' + (top + BOX_H / 2) + ') rotate(-90)'}, g);
  
  
  yt.textContent = yTitles[p];

  xTicks.forEach(v => {
    const x = xS(v);
    const tk = mk('line', {x1: x, x2: x, y1: top + BOX_H, y2: top + BOX_H + 5, stroke: '#000', 'stroke-width': 1}, g);
    
    
    const tl = mk('text', {x: x, y: top + BOX_H + 17, 'text-anchor': 'middle', 'font-size': 10}, g);
    
    
    tl.textContent = v;
  });
  yTickSets[p].forEach((v, i) => {
    const y = yS(v);
    const tk = mk('line', {x1: left - 5, x2: left, y1: y, y2: y, stroke: '#000', 'stroke-width': 1}, g);
    
    
    const lab = yLabelSets[p][i];
    if (lab) {
      const tl = mk('text', {x: 0, y: 0, 'text-anchor': 'middle', 'font-size': 10, transform: 'translate(' + (left - 8) + ',' + y + ') rotate(-90)'}, g);
      
      
      tl.textContent = lab;
    }
  });
  const clip = 'clip' + p;
  const cp = mk('clipPath', {id: clip}, g);
  mk('rect', {x: left, y: top, width: BOX_W, height: BOX_H}, cp);
  const pts = mk('g', {'clip-path': 'url(#' + clip + ')', fill: 'none', 'stroke-width': 1.7}, g);
  
  
  colorSeries[p].forEach((v, i) => {
    if (i >= hoursColor.length) return;
    const pt = mk('circle', {cx: xS(hoursColor[i]), cy: yS(v), r: 2.6, stroke: seriesColors[p]}, pts);
    
    
  });
  colorSeriesB[p].forEach((v, i) => {
    if (i >= hoursColorB.length) return;
    const pt = mk('circle', {cx: xS(hoursColorB[i]), cy: yS(v), r: 2.6, stroke: seriesColors[p]}, pts);
    
    
  });
  blackSeries[p].forEach((v, i) => {
    if (i >= hoursBlack.length) return;
    const pt = mk('circle', {cx: xS(hoursBlack[i]), cy: yS(v), r: 2.6, stroke: '#000'}, pts);
    
    
  });
  const box = mk('rect', {x: left, y: top, width: BOX_W, height: BOX_H, fill: 'none', stroke: '#000', 'stroke-width': 1}, g);
  
  
}
</script>
</body></html>
